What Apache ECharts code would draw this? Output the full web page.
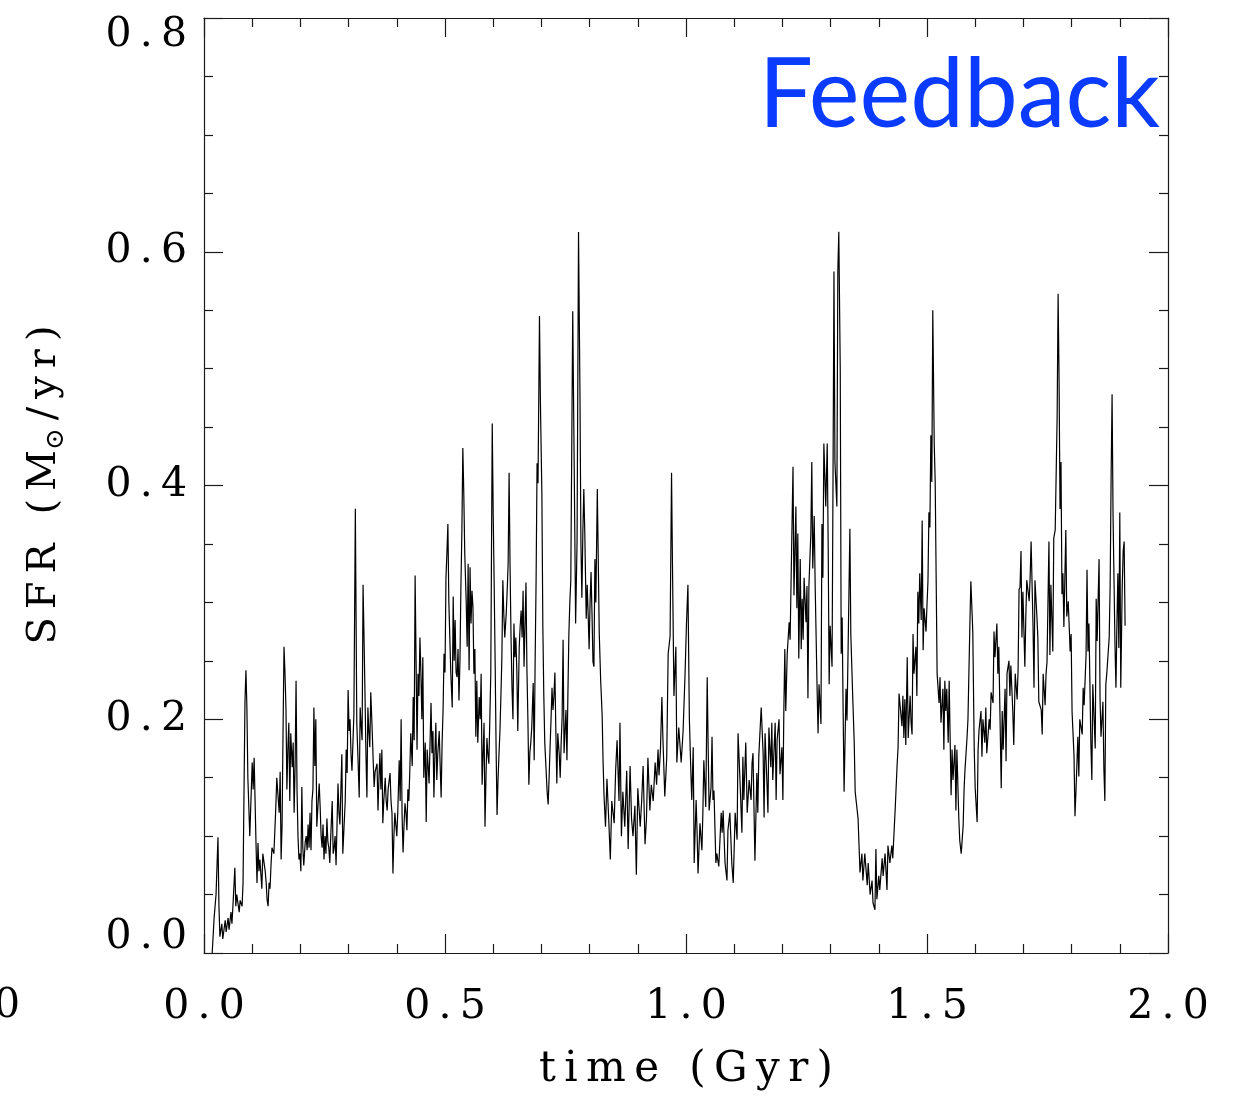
<!DOCTYPE html>
<html><head><meta charset="utf-8">
<script src="https://cdn.jsdelivr.net/npm/echarts@6/dist/echarts.min.js"></script>
<style>html,body{margin:0;padding:0;background:#fff}#c{width:1235px;height:1099px}</style>
</head><body><div id="c"></div>
<script>
// ---- data: [time (Gyr), SFR (Msun/yr)] ----
const segA = [[0.017,0.0],[0.021,0.03],[0.025,0.05],[0.029,0.099],[0.031,0.04],[0.033,0.014],[0.037,0.025],[0.039,0.012],[0.044,0.028],[0.046,0.018],[0.050,0.03],[0.052,0.02],[0.056,0.035],[0.058,0.025],[0.060,0.04],[0.064,0.073],[0.066,0.04],[0.068,0.05],[0.073,0.035],[0.075,0.045],[0.079,0.04],[0.081,0.06],[0.085,0.215],[0.087,0.242],[0.089,0.21],[0.091,0.15],[0.095,0.10],[0.100,0.163],[0.102,0.14],[0.104,0.167],[0.108,0.092],[0.110,0.06],[0.112,0.094],[0.114,0.07],[0.116,0.08],[0.120,0.055],[0.122,0.085],[0.127,0.07],[0.129,0.06],[0.131,0.045],[0.133,0.04],[0.135,0.06],[0.137,0.055],[0.139,0.075],[0.141,0.09],[0.145,0.085],[0.149,0.125],[0.151,0.15],[0.156,0.12],[0.158,0.155],[0.160,0.08],[0.162,0.11],[0.164,0.19],[0.166,0.262],[0.168,0.24],[0.170,0.21],[0.172,0.14],[0.174,0.175],[0.176,0.197],[0.178,0.13],[0.180,0.188],[0.183,0.159],[0.185,0.18],[0.187,0.12],[0.189,0.16],[0.191,0.233],[0.193,0.14],[0.195,0.1],[0.197,0.08],[0.199,0.085],[0.201,0.07],[0.203,0.142],[0.205,0.09],[0.207,0.075],[0.210,0.095],[0.212,0.1],[0.214,0.088],[0.216,0.11],[0.218,0.09],[0.220,0.12],[0.222,0.088],[0.224,0.13],[0.226,0.14],[0.228,0.21],[0.230,0.16],[0.232,0.2],[0.234,0.108],[0.237,0.13],[0.239,0.145],[0.241,0.125],[0.243,0.1],[0.245,0.09],[0.247,0.11],[0.249,0.08],[0.251,0.1],[0.253,0.085],[0.255,0.115],[0.257,0.095],[0.259,0.09],[0.261,0.077],[0.263,0.1],[0.266,0.13],[0.268,0.085],[0.270,0.09]];
const segB = [[0.272,0.1],[0.274,0.075],[0.278,0.145],[0.280,0.12],[0.282,0.11],[0.286,0.17],[0.288,0.085],[0.293,0.13],[0.295,0.174],[0.297,0.154],[0.299,0.225],[0.301,0.19],[0.303,0.2],[0.305,0.17],[0.307,0.156],[0.309,0.18],[0.311,0.205],[0.314,0.38],[0.317,0.197],[0.320,0.16],[0.322,0.133],[0.324,0.21],[0.326,0.195],[0.328,0.182],[0.330,0.315],[0.332,0.27],[0.334,0.222],[0.336,0.17],[0.338,0.133],[0.340,0.21],[0.342,0.19],[0.344,0.176],[0.346,0.223],[0.349,0.19],[0.351,0.165],[0.353,0.142],[0.355,0.155],[0.359,0.162],[0.361,0.122],[0.363,0.15],[0.365,0.171],[0.367,0.14],[0.369,0.174],[0.371,0.111],[0.373,0.13],[0.376,0.15],[0.378,0.13],[0.380,0.122],[0.382,0.14],[0.386,0.154],[0.388,0.13],[0.390,0.12],[0.392,0.068],[0.394,0.1],[0.396,0.12],[0.398,0.11],[0.400,0.1],[0.402,0.12],[0.405,0.165],[0.407,0.13],[0.409,0.2],[0.411,0.117],[0.413,0.086],[0.415,0.11],[0.417,0.128],[0.419,0.12],[0.421,0.105],[0.423,0.14],[0.425,0.13],[0.427,0.156],[0.429,0.188],[0.432,0.16],[0.434,0.219],[0.436,0.182],[0.438,0.323],[0.440,0.25],[0.442,0.174],[0.444,0.239],[0.446,0.22],[0.448,0.27],[0.450,0.24],[0.452,0.2],[0.454,0.253],[0.456,0.15],[0.459,0.18],[0.461,0.112],[0.463,0.174],[0.465,0.16],[0.467,0.145],[0.469,0.18],[0.471,0.214],[0.473,0.171],[0.475,0.19],[0.477,0.133],[0.479,0.17],[0.481,0.197],[0.483,0.148],[0.485,0.17],[0.488,0.19],[0.490,0.16],[0.492,0.133],[0.494,0.18],[0.496,0.208],[0.498,0.256],[0.500,0.24],[0.502,0.321],[0.504,0.343],[0.506,0.367],[0.508,0.3],[0.510,0.27],[0.512,0.24],[0.515,0.21],[0.517,0.305],[0.519,0.25]];
const segC = [[0.521,0.285],[0.523,0.24],[0.525,0.236],[0.527,0.26],[0.529,0.216],[0.531,0.25],[0.533,0.313],[0.535,0.36],[0.537,0.432],[0.539,0.393],[0.541,0.342],[0.544,0.3],[0.546,0.262],[0.548,0.333],[0.550,0.242],[0.552,0.33],[0.554,0.282],[0.556,0.31],[0.558,0.296],[0.560,0.239],[0.562,0.26],[0.564,0.185],[0.566,0.233],[0.568,0.18],[0.571,0.219],[0.573,0.2],[0.575,0.239],[0.577,0.144],[0.579,0.17],[0.581,0.197],[0.583,0.108],[0.585,0.15],[0.587,0.184],[0.589,0.17],[0.591,0.162],[0.593,0.2],[0.595,0.239],[0.598,0.453],[0.600,0.376],[0.602,0.316],[0.604,0.25],[0.606,0.176],[0.608,0.118],[0.610,0.148],[0.612,0.17],[0.614,0.19],[0.616,0.22],[0.618,0.253],[0.620,0.319],[0.622,0.29],[0.624,0.27],[0.627,0.29],[0.629,0.31],[0.631,0.333],[0.633,0.411],[0.635,0.33],[0.637,0.27],[0.639,0.227],[0.641,0.2],[0.643,0.282],[0.645,0.253],[0.647,0.27],[0.649,0.242],[0.651,0.19],[0.654,0.262],[0.656,0.28],[0.658,0.293],[0.660,0.27],[0.662,0.31],[0.664,0.245],[0.666,0.28],[0.668,0.317],[0.670,0.242],[0.672,0.2],[0.674,0.144],[0.676,0.171],[0.678,0.18],[0.680,0.193],[0.683,0.231],[0.685,0.165],[0.687,0.25],[0.689,0.319],[0.691,0.419],[0.693,0.402],[0.696,0.545],[0.698,0.47],[0.701,0.393],[0.703,0.279],[0.705,0.22],[0.707,0.18],[0.712,0.137],[0.714,0.127],[0.716,0.15],[0.718,0.176],[0.720,0.2],[0.722,0.227],[0.724,0.208],[0.726,0.22],[0.728,0.24],[0.730,0.19],[0.732,0.145],[0.734,0.188],[0.737,0.17],[0.739,0.15],[0.741,0.18],[0.743,0.202],[0.745,0.268],[0.747,0.171],[0.749,0.19],[0.751,0.208],[0.753,0.165],[0.755,0.222],[0.757,0.273],[0.759,0.3],[0.761,0.319]];
const segD = [[0.765,0.549],[0.768,0.419],[0.771,0.282],[0.774,0.352],[0.777,0.617],[0.780,0.479],[0.782,0.35],[0.784,0.304],[0.786,0.36],[0.788,0.397],[0.790,0.36],[0.793,0.286],[0.795,0.315],[0.797,0.29],[0.799,0.26],[0.801,0.3],[0.803,0.326],[0.805,0.29],[0.807,0.249],[0.809,0.245],[0.811,0.337],[0.813,0.3],[0.816,0.397],[0.820,0.274],[0.823,0.233],[0.826,0.204],[0.828,0.163],[0.830,0.134],[0.833,0.108],[0.836,0.149],[0.840,0.111],[0.843,0.08],[0.846,0.13],[0.851,0.111],[0.854,0.156],[0.857,0.182],[0.861,0.13],[0.863,0.197],[0.866,0.1],[0.869,0.138],[0.873,0.108],[0.877,0.156],[0.880,0.089],[0.884,0.16],[0.887,0.115],[0.890,0.1],[0.894,0.126],[0.897,0.067],[0.900,0.141],[0.905,0.108],[0.908,0.13],[0.911,0.16],[0.915,0.093],[0.918,0.115],[0.921,0.167],[0.925,0.122],[0.928,0.144],[0.932,0.13],[0.936,0.163],[0.939,0.144],[0.942,0.174],[0.944,0.152],[0.947,0.174],[0.950,0.219],[0.952,0.185],[0.956,0.134],[0.960,0.167],[0.963,0.256],[0.967,0.271],[0.970,0.411],[0.972,0.33],[0.975,0.22],[0.979,0.262],[0.981,0.163],[0.985,0.193],[0.990,0.163],[0.994,0.19],[0.998,0.238],[1.001,0.282],[1.004,0.315],[1.007,0.2],[1.010,0.156]];
const segE = [[1.012,0.131],[1.015,0.176],[1.017,0.077],[1.021,0.131],[1.023,0.103],[1.025,0.068],[1.029,0.111],[1.033,0.088],[1.035,0.12],[1.037,0.165],[1.041,0.125],[1.044,0.236],[1.046,0.176],[1.048,0.122],[1.052,0.142],[1.054,0.185],[1.056,0.131],[1.058,0.139],[1.062,0.077],[1.064,0.085],[1.068,0.074],[1.073,0.12],[1.075,0.103],[1.077,0.122],[1.081,0.077],[1.085,0.062],[1.087,0.105],[1.091,0.12],[1.095,0.077],[1.098,0.06],[1.102,0.12],[1.106,0.097],[1.108,0.188],[1.112,0.148],[1.116,0.103],[1.118,0.168],[1.120,0.131],[1.124,0.18],[1.127,0.12],[1.131,0.148],[1.135,0.131],[1.137,0.162],[1.139,0.171],[1.143,0.079],[1.147,0.154],[1.149,0.12],[1.151,0.168],[1.156,0.21],[1.160,0.171],[1.162,0.116],[1.164,0.188],[1.168,0.145],[1.170,0.12],[1.172,0.193],[1.176,0.159],[1.178,0.197],[1.180,0.148],[1.185,0.197],[1.187,0.131],[1.189,0.182],[1.193,0.2]];
const segF = [[1.195,0.153],[1.199,0.176],[1.201,0.131],[1.203,0.207],[1.205,0.26],[1.207,0.207],[1.210,0.256],[1.214,0.283],[1.216,0.268],[1.220,0.367],[1.222,0.416],[1.224,0.306],[1.228,0.382],[1.230,0.295],[1.232,0.359],[1.234,0.252],[1.237,0.337],[1.239,0.26],[1.241,0.303],[1.243,0.268],[1.245,0.321],[1.249,0.283],[1.251,0.314],[1.253,0.218],[1.255,0.314],[1.259,0.359],[1.261,0.42],[1.263,0.329],[1.266,0.374],[1.268,0.314],[1.272,0.226],[1.274,0.188],[1.276,0.23],[1.280,0.196],[1.282,0.367],[1.284,0.321],[1.286,0.436],[1.290,0.382],[1.293,0.436],[1.295,0.348],[1.297,0.23],[1.299,0.28],[1.303,0.245],[1.305,0.405],[1.307,0.583],[1.309,0.42],[1.313,0.382],[1.315,0.583],[1.317,0.617],[1.320,0.5],[1.322,0.256],[1.324,0.287],[1.326,0.207],[1.328,0.138],[1.332,0.226],[1.334,0.199],[1.336,0.252],[1.338,0.306],[1.340,0.363],[1.342,0.272],[1.346,0.218],[1.349,0.18],[1.351,0.138],[1.357,0.115],[1.359,0.092],[1.361,0.069],[1.365,0.085],[1.367,0.062],[1.371,0.085],[1.376,0.058],[1.378,0.077],[1.382,0.05],[1.386,0.062],[1.388,0.043],[1.392,0.037],[1.394,0.089],[1.396,0.046],[1.400,0.066],[1.402,0.054],[1.407,0.081],[1.409,0.066],[1.413,0.085],[1.417,0.054],[1.419,0.092],[1.423,0.077],[1.427,0.092],[1.429,0.081],[1.434,0.123],[1.438,0.161],[1.440,0.176],[1.442,0.222]];
const segG = [[1.444,0.223],[1.448,0.194],[1.450,0.22],[1.452,0.184],[1.454,0.217],[1.456,0.178],[1.459,0.253],[1.461,0.184],[1.465,0.22],[1.467,0.197],[1.469,0.187],[1.471,0.273],[1.473,0.239],[1.477,0.262],[1.479,0.22],[1.481,0.309],[1.483,0.282],[1.485,0.325],[1.488,0.285],[1.490,0.37],[1.492,0.259],[1.494,0.295],[1.498,0.275],[1.500,0.298],[1.502,0.318],[1.504,0.377],[1.506,0.364],[1.508,0.443],[1.510,0.403],[1.512,0.55],[1.515,0.436],[1.517,0.403],[1.519,0.321],[1.521,0.239],[1.525,0.214],[1.527,0.236],[1.529,0.197],[1.533,0.226],[1.535,0.174],[1.537,0.233],[1.539,0.207],[1.541,0.226],[1.544,0.18],[1.546,0.233],[1.550,0.135],[1.552,0.174],[1.554,0.148],[1.558,0.178],[1.560,0.122],[1.562,0.174],[1.566,0.115],[1.568,0.096],[1.571,0.085],[1.575,0.109],[1.577,0.141],[1.579,0.158],[1.583,0.184],[1.585,0.2],[1.589,0.282],[1.591,0.318],[1.595,0.275],[1.598,0.174],[1.600,0.141],[1.604,0.112],[1.606,0.174],[1.608,0.191],[1.612,0.207],[1.614,0.168],[1.616,0.2],[1.620,0.18],[1.622,0.21],[1.624,0.171],[1.629,0.2],[1.631,0.191],[1.633,0.223],[1.637,0.214],[1.639,0.275],[1.641,0.253],[1.645,0.282],[1.647,0.239],[1.649,0.262],[1.654,0.141],[1.656,0.207],[1.658,0.174],[1.662,0.226],[1.664,0.164],[1.666,0.239],[1.670,0.25],[1.672,0.22],[1.674,0.246],[1.678,0.207],[1.680,0.178],[1.683,0.239],[1.687,0.217],[1.689,0.243],[1.691,0.311]];
const segH = [[1.693,0.313],[1.695,0.344],[1.697,0.27],[1.699,0.309],[1.703,0.245],[1.705,0.288],[1.707,0.319],[1.712,0.301],[1.714,0.322],[1.716,0.352],[1.720,0.279],[1.722,0.227],[1.724,0.319],[1.728,0.288],[1.730,0.27],[1.732,0.215],[1.737,0.208],[1.739,0.187],[1.741,0.239],[1.745,0.212],[1.747,0.239],[1.749,0.249],[1.753,0.352],[1.755,0.255],[1.757,0.315],[1.761,0.258],[1.763,0.355],[1.766,0.362],[1.770,0.459],[1.772,0.564],[1.774,0.49],[1.776,0.38],[1.778,0.42],[1.780,0.307],[1.782,0.325],[1.784,0.279],[1.788,0.362],[1.790,0.288],[1.793,0.301],[1.797,0.258],[1.799,0.273],[1.801,0.206],[1.805,0.169],[1.807,0.117],[1.809,0.138],[1.813,0.185],[1.815,0.151],[1.817,0.2],[1.822,0.187],[1.824,0.227],[1.826,0.212],[1.830,0.255],[1.832,0.328],[1.834,0.258],[1.836,0.282],[1.840,0.179],[1.842,0.148],[1.844,0.23],[1.849,0.175],[1.851,0.303],[1.853,0.267],[1.857,0.337],[1.859,0.218],[1.861,0.185],[1.865,0.215],[1.867,0.157],[1.869,0.13],[1.871,0.23],[1.873,0.239],[1.878,0.27],[1.880,0.315],[1.882,0.408],[1.884,0.478],[1.886,0.374],[1.888,0.319],[1.890,0.264],[1.892,0.227],[1.894,0.282],[1.896,0.325],[1.898,0.261],[1.900,0.377],[1.902,0.227],[1.905,0.313],[1.907,0.344],[1.909,0.352],[1.911,0.28]];

const xTickValues = [0.0, 0.5, 1.0, 1.5, 2.0];
const yTickValues = [0.0, 0.2, 0.4, 0.6, 0.8];
const xTitle = 'time (Gyr)';
const yTitleParts = ['SFR (M', '\u2299', '/yr)'];
const panelLabel = 'Feedback';
const clippedNeighbourLabel = '0';

const series = [].concat(segA, segB, segC, segD, segE, segF, segG, segH);

const serif = '"DejaVu Serif", serif';
const axisColor = '#1a1a1a';
const sp = s => s.split('').join('\u2009');

const chart = echarts.init(document.getElementById('c'), null, {renderer: 'canvas'});

function xAxisCfg(pos, showLabel) {
  return {
    type: 'value', position: pos, min: xTickValues[0], max: xTickValues[xTickValues.length - 1], interval: 0.5,
    axisLine: {show: true, onZero: false, lineStyle: {color: axisColor, width: 1.2}},
    axisTick: {show: true, inside: true, length: 19, lineStyle: {color: axisColor, width: 1.2}},
    minorTick: {show: true, splitNumber: 5, length: 9, lineStyle: {color: axisColor, width: 1.2}},
    splitLine: {show: false}, minorSplitLine: {show: false},
    axisLabel: {show: showLabel, margin: 34, fontFamily: serif, fontSize: 41, color: '#000',
      formatter: v => sp(v.toFixed(1))}
  };
}
function yAxisCfg(pos, showLabel) {
  return {
    type: 'value', position: pos, min: yTickValues[0], max: yTickValues[yTickValues.length - 1], interval: 0.2,
    axisLine: {show: true, onZero: false, lineStyle: {color: axisColor, width: 1.2}},
    axisTick: {show: true, inside: true, length: 19, lineStyle: {color: axisColor, width: 1.2}},
    minorTick: {show: true, splitNumber: 4, length: 9, lineStyle: {color: axisColor, width: 1.2}},
    splitLine: {show: false}, minorSplitLine: {show: false},
    axisLabel: {show: showLabel, margin: 17, color: '#000',
      formatter: v => {
        const t = sp(v.toFixed(1));
        if (Math.abs(v - 0.8) < 1e-9) return '{top|' + t + '}';
        if (Math.abs(v) < 1e-9) return '{bot|' + t + '}';
        return '{n|' + t + '}';
      },
      rich: {
        top: {fontFamily: serif, fontSize: 41, color: '#000', padding: [34, 0, 0, 0]},
        bot: {fontFamily: serif, fontSize: 41, color: '#000', padding: [0, 0, 32, 0]},
        n: {fontFamily: serif, fontSize: 41, color: '#000'}
      }
    }
  };
}

chart.setOption({
  animation: false,
  backgroundColor: '#fff',
  grid: {left: 204, right: 67, top: 18, bottom: 146, containLabel: false, outerBoundsMode: 'none'},
  xAxis: [xAxisCfg('bottom', true), xAxisCfg('top', false)],
  yAxis: [yAxisCfg('left', true), yAxisCfg('right', false)],
  series: [{
    type: 'line', data: series, xAxisIndex: 0, yAxisIndex: 0,
    showSymbol: false, symbol: 'none', smooth: false,
    lineStyle: {color: '#000', width: 1.2}
  }],
  graphic: [
    {type: 'text', x: 1160, y: 96, style: {text: panelLabel, fontFamily: 'Lato, "Open Sans", sans-serif', fontSize: 96,
      fill: '#0a3bff', align: 'right', verticalAlign: 'middle'}},
    {type: 'text', x: 686, y: 1070, style: {text: sp(xTitle), fontFamily: serif, fontSize: 42, fill: '#000',
      align: 'center', verticalAlign: 'middle'}},
    {type: 'text', x: 45, y: 485, rotation: Math.PI / 2, style: {
      text: '{a|' + sp(yTitleParts[0]) + '}{s|' + yTitleParts[1] + '}{a|\u2009' + sp(yTitleParts[2]) + '}',
      align: 'center', verticalAlign: 'middle',
      rich: {a: {fontFamily: serif, fontSize: 40, fill: '#000', color: '#000'},
             s: {fontFamily: serif, fontSize: 26, fill: '#000', color: '#000', padding: [22, 0, 0, 0]}}
    }},
    {type: 'text', x: 20, y: 1006, style: {text: clippedNeighbourLabel, fontFamily: serif, fontSize: 41, fill: '#000',
      align: 'right', verticalAlign: 'middle'}}
  ]
});
</script>
</body></html>
